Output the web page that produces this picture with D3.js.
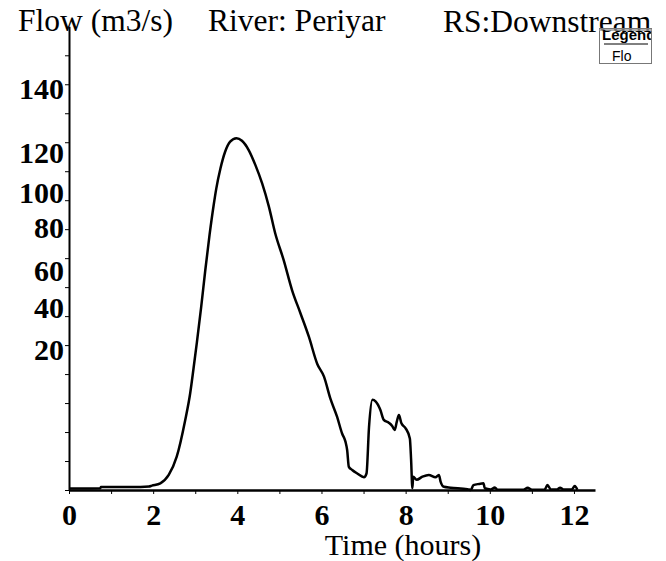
<!DOCTYPE html>
<html>
<head>
<meta charset="utf-8">
<script src="https://cdn.jsdelivr.net/npm/d3@7"></script>
<style>
  body { margin: 0; background: #fff; }
  svg { display: block; }
</style>
</head>
<body>
<svg id="chart" width="666" height="561"></svg>
<script>
// hydrograph
var timeHours = [0, 0.3, 0.74, 0.76, 1.5, 1.9, 1.97, 2.17, 2.37, 2.56, 2.76, 2.88, 2.96, 3.04, 3.14, 3.24,
  3.34, 3.44, 3.5, 3.6, 3.71, 3.83, 3.98, 4.11, 4.27, 4.43, 4.59, 4.75, 4.9, 5.1, 5.3, 5.5, 5.7,
  5.9, 6.06, 6.21, 6.37, 6.49, 6.57, 6.61, 6.65, 6.73, 6.85, 7.01, 7.07, 7.13, 7.21, 7.29, 7.4,
  7.48, 7.6, 7.68, 7.74, 7.79, 7.84, 7.9, 8.0, 8.1, 8.13, 8.16, 8.18, 8.26, 8.4, 8.55, 8.71, 8.79,
  8.83, 8.91, 9.07, 9.47, 9.55, 9.61, 9.75, 9.85, 9.88, 10.02, 10.12, 10.18, 10.8, 10.9, 11.0,
  11.3, 11.37, 11.45, 11.6, 11.67, 11.75, 11.95, 12.02, 12.08];
var flowM3s = [0.5, 0.5, 0.6, 1.0, 1.0, 1.2, 1.5, 2.3, 5.2, 11.5, 24, 33.4, 42, 51, 63, 76,
  88, 98.5, 104, 111, 116.7, 120.2, 121.4, 120.5, 117.3, 112.1, 105.8, 97.8, 88.6, 79.4, 69.0, 61.0, 52.9,
  43.5, 39.1, 31.6, 25.3, 19.5, 16.7, 13.8, 8.0, 6.9, 5.7, 4.4, 5.7, 21.8, 31.1, 30.5, 27.6,
  24.2, 23.2, 22.1, 20.7, 23.6, 25.9, 23.0, 21.3, 17.8, 10.4, 0.6, 4.6, 3.5, 4.6, 5.2, 4.4, 5.2,
  2.9, 1.1, 0.8, 0.3, 0, 1.7, 2.1, 2.3, 0.6, 0.2, 0.9, 0.1, 0.1, 0.8, 0.1,
  0.1, 1.7, 0.2, 0.2, 0.8, 0.2, 0.2, 1.4, 0.1];

var xMajor = [0, 2, 4, 6, 8, 10, 12];
var yTickValues = d3.range(0, 160, 10);
// y labels as printed, and the flow value each one sits beside
var yLabels = ["140", "120", "100", "80", "60", "40", "20"];
var yLabelAt = [138.6, 116.6, 102.8, 90.7, 75.9, 62.8, 48.6];

var serif = "Liberation Serif, Times New Roman, serif";
var sans = "Liberation Sans, Arial, sans-serif";

var svg = d3.select("#chart");

var x = d3.scaleLinear().domain([0, 12.5]).range([69, 595]);
var y = d3.scaleLinear().domain([0, 160]).range([490, 26.3]);

// titles
var titles = [["Flow (m3/s)", 18, 31], ["River: Periyar", 208, 31], ["RS:Downstream", 443, 32]];
svg.selectAll("text.title")
  .data(titles)
  .enter()
  .append("text")
  .attr("class", "title")
  .attr("x", function(d) { return d[1]; })
  .attr("y", function(d) { return d[2]; })
  .attr("font-family", serif)
  .attr("font-size", 31.5)
  .text(function(d) { return d[0]; });

// x axis
var xAxis = d3.axisBottom(x)
  .tickValues(d3.range(0, 13, 1))
  .tickSize(4)
  .tickSizeOuter(0)
  .tickFormat(function(d) { return xMajor.indexOf(d) >= 0 ? d : ""; });

var gx = svg.append("g").attr("transform", "translate(0,490)").call(xAxis);
gx.select(".domain").attr("stroke-width", 2.5);
gx.selectAll(".tick line").attr("stroke-width", 1);
gx.selectAll(".tick text")
  .attr("font-family", serif)
  .attr("font-size", 30)
  .attr("font-weight", "bold")
  .attr("fill", "#000")
  .attr("y", 35)
  .attr("dy", 0);

// y axis, ticks only
var yAxis = d3.axisLeft(y)
  .tickValues(yTickValues)
  .tickSize(4)
  .tickSizeOuter(0)
  .tickFormat("");
var gy = svg.append("g").attr("transform", "translate(69,0)").call(yAxis);
gy.select(".domain").attr("stroke-width", 2);
gy.selectAll(".tick line").attr("stroke-width", 1);

svg.selectAll("text.ylab")
  .data(yLabels)
  .enter()
  .append("text")
  .attr("class", "ylab")
  .attr("x", 64)
  .attr("y", function(d, i) { return y(yLabelAt[i]); })
  .attr("dy", "0.35em")
  .attr("text-anchor", "end")
  .attr("font-family", serif)
  .attr("font-size", 30)
  .attr("font-weight", "bold")
  .text(function(d) { return d; });

svg.append("text")
  .attr("x", 403)
  .attr("y", 555)
  .attr("text-anchor", "middle")
  .attr("font-family", serif)
  .attr("font-size", 30)
  .text("Time (hours)");

// flow line
var pts = timeHours.map(function(t, i) { return [t, flowM3s[i]]; });
var line = d3.line()
  .x(function(d) { return x(d[0]); })
  .y(function(d) { return y(d[1]); })
  .curve(d3.curveMonotoneX);

svg.append("path")
  .datum(pts)
  .attr("d", line)
  .attr("fill", "none")
  .attr("stroke", "#000")
  .attr("stroke-width", 2.5)
  .attr("stroke-linejoin", "round");

// legend, cut off at the box edge like the original
var defs = svg.append("defs");
defs.append("clipPath").attr("id", "lgclip")
  .append("rect").attr("x", 599).attr("y", 28).attr("width", 52).attr("height", 36);

var lg = svg.append("g");
lg.append("rect")
  .attr("x", 599.5).attr("y", 28.5).attr("width", 52).attr("height", 35)
  .attr("fill", "none").attr("stroke", "#777").attr("stroke-width", 1);
lg.append("line")
  .attr("x1", 599).attr("x2", 652).attr("y1", 30).attr("y2", 30)
  .attr("stroke", "#999").attr("stroke-width", 1.5);
lg.append("text")
  .attr("clip-path", "url(#lgclip)")
  .attr("x", 602).attr("y", 40)
  .attr("font-family", sans)
  .attr("font-size", 15).attr("font-weight", "bold")
  .text("Legend");
lg.append("line")
  .attr("x1", 604).attr("x2", 648).attr("y1", 44).attr("y2", 44)
  .attr("stroke", "#000").attr("stroke-width", 1);
lg.append("text")
  .attr("x", 612).attr("y", 61)
  .attr("font-family", sans)
  .attr("font-size", 14)
  .text("Flo");
</script>
</body>
</html>
